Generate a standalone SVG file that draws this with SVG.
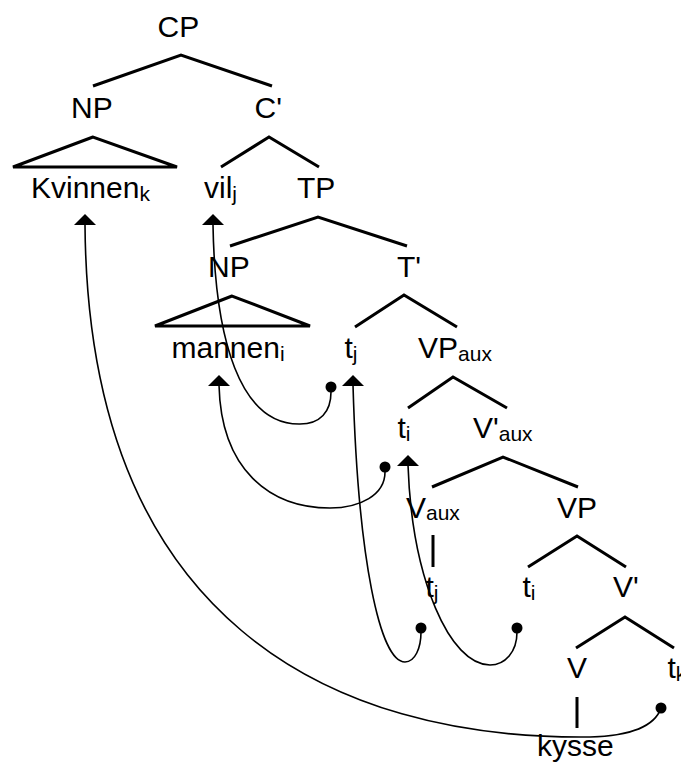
<svg xmlns="http://www.w3.org/2000/svg" xmlns:xlink="http://www.w3.org/1999/xlink" width="681" height="765" viewBox="0 0 681 765">
  <style>
    text { font-family: "Liberation Sans", Arial, sans-serif; font-size: 30px; fill: #000; }
    .sub { font-size: 21px; }
    .branch { fill: none; stroke: #000; stroke-width: 3; stroke-linejoin: miter; }
    .move { fill: none; stroke: #000; stroke-width: 1.6; }
    .dot { fill: #000; }
    .head { fill: #000; }
  </style>
  <defs>
    <!-- arrowhead, apex at origin -->
    <path id="head" class="head" d="M0,0 L11,11 L-11,11 Z"/>
  </defs>

  <rect width="681" height="765" fill="#fff"/>

  <!-- tree branches -->
  <g id="branches">
    <polyline class="branch" points="93,86 181,55 272,86"/>
    <polygon class="branch" points="93,137 13,167 177,167"/>
    <polyline class="branch" points="221,167 269,137 319,167"/>
    <polyline class="branch" points="230,246 318,217 407,246"/>
    <polygon class="branch" points="232,296 155,326 310,326"/>
    <polyline class="branch" points="355,327 404,295 457,327"/>
    <polyline class="branch" points="408,408 453,377 507,408"/>
    <polyline class="branch" points="432,487 503,457 578,487"/>
    <line class="branch" x1="433" y1="535" x2="433" y2="567"/>
    <polyline class="branch" points="528,567 577,536 626,567"/>
    <polyline class="branch" points="576,648 625,617 674,648"/>
    <line class="branch" x1="577" y1="697" x2="577" y2="728"/>
  </g>

  <!-- nodes -->
  <g id="node-CP"><text x="157.5" y="37">CP</text></g>
  <g id="node-NP1"><text x="71" y="118">NP</text></g>
  <g id="node-C1"><text x="254.5" y="118">C'</text></g>
  <g id="node-kvinnen"><text x="31" y="198">Kvinnen<tspan class="sub" dy="3">k</tspan></text></g>
  <g id="node-vil"><text x="204" y="198">vil<tspan class="sub" dy="3">j</tspan></text></g>
  <g id="node-TP"><text x="297" y="198">TP</text></g>
  <g id="node-NP2"><text x="208" y="277">NP</text></g>
  <g id="node-T1"><text x="397" y="277">T'</text></g>
  <g id="node-mannen"><text x="171.5" y="358">mannen<tspan class="sub" dy="3">i</tspan></text></g>
  <g id="node-tj1"><text x="344.5" y="358">t<tspan class="sub" dy="3">j</tspan></text></g>
  <g id="node-VPaux"><text x="418" y="358">VP<tspan class="sub" dy="3">aux</tspan></text></g>
  <g id="node-ti1"><text x="397.5" y="438">t<tspan class="sub" dy="3">i</tspan></text></g>
  <g id="node-V1aux"><text x="473" y="438">V'<tspan class="sub" dy="3">aux</tspan></text></g>
  <g id="node-Vaux"><text x="406" y="518">V<tspan class="sub" dy="2">aux</tspan></text></g>
  <g id="node-VP"><text x="557" y="518">VP</text></g>
  <g id="node-tj2"><text x="425.5" y="597">t<tspan class="sub" dy="3">j</tspan></text></g>
  <g id="node-ti2"><text x="522.5" y="597">t<tspan class="sub" dy="3">i</tspan></text></g>
  <g id="node-V1"><text x="613" y="597">V'</text></g>
  <g id="node-V"><text x="567" y="678">V</text></g>
  <g id="node-tk"><text x="667.5" y="678">t<tspan class="sub" dy="3">k</tspan></text></g>
  <g id="node-kysse"><text x="537" y="756">kysse</text></g>

  <!-- movement connectors -->
  <g id="connectors">
    <path class="move" d="M85,225 C88,620 330,740 590,737 C630,736 655,726 661,708"/>
    <path class="move" d="M213,225 C215,340 240,425 300,424 C320,424 331,412 331,392"/>
    <path class="move" d="M219,385 C221,470 270,508 330,508 C360,508 385,495 385,472"/>
    <path class="move" d="M353,385 C358,560 380,662 405,662 C415,662 421,648 421,632"/>
    <path class="move" d="M408,465 C412,580 450,665 490,665 C505,665 517,652 517,632"/>

    <circle class="dot" cx="661" cy="708" r="5.5"/>
    <circle class="dot" cx="331" cy="387" r="5.5"/>
    <circle class="dot" cx="385" cy="467" r="5.5"/>
    <circle class="dot" cx="421" cy="628" r="5.5"/>
    <circle class="dot" cx="517" cy="628" r="5.5"/>

    <use xlink:href="#head" x="85" y="214"/>
    <use xlink:href="#head" x="213" y="214"/>
    <use xlink:href="#head" x="219" y="375"/>
    <use xlink:href="#head" x="353" y="375"/>
    <use xlink:href="#head" x="408" y="455"/>
  </g>
</svg>
